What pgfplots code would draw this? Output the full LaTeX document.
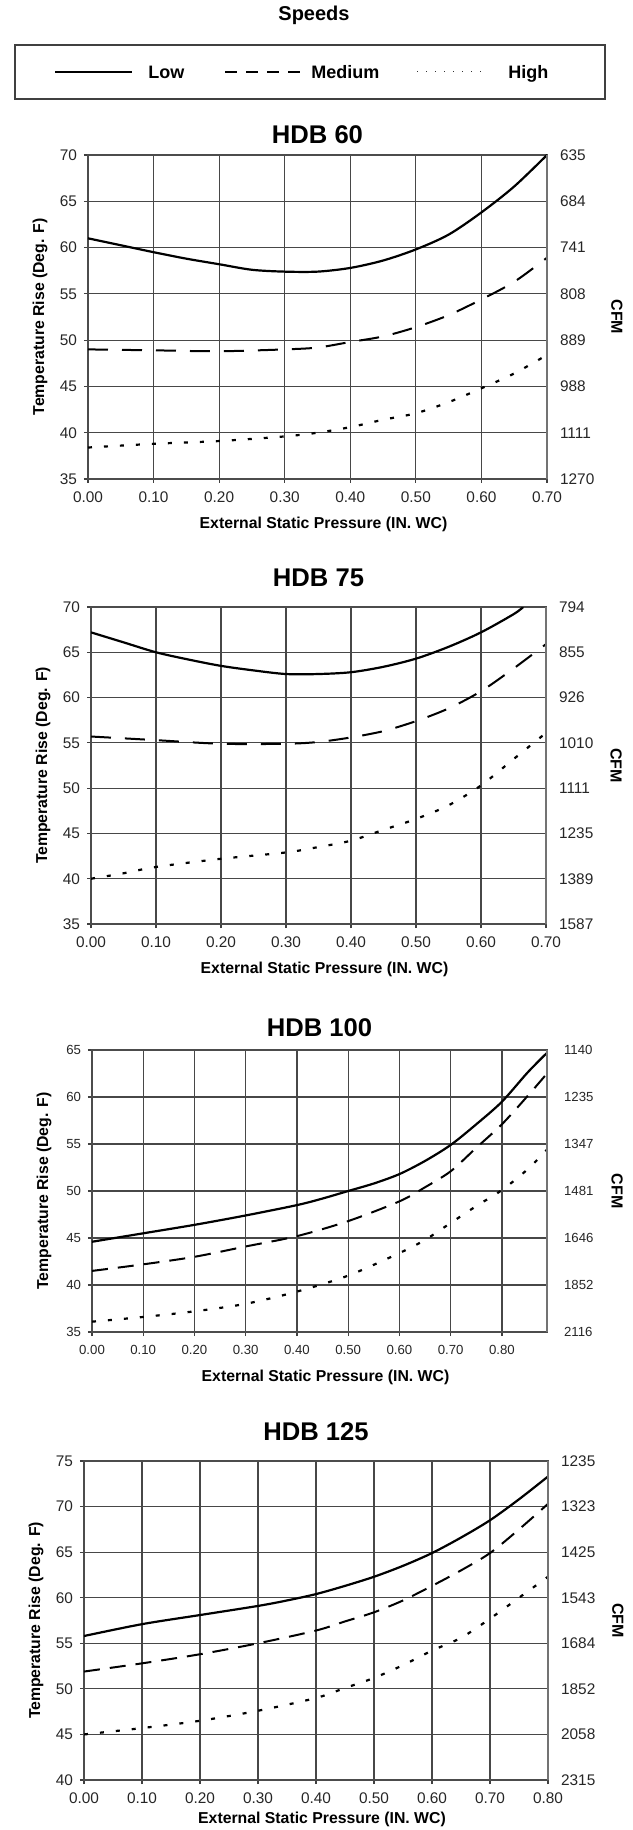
\documentclass[border=0pt]{standalone}
\usepackage{fontspec}
\setmainfont{Liberation Sans}
\usepackage{pgfplots}
\pgfplotsset{compat=1.18}

% 1 px of the reference = 0.5pt
\pgfplotsset{
  hdb/.style={
    scale only axis,
    anchor=north west,
    axis line style={black!70, line width=0.6pt},
    grid=major,
    major grid style={black!72, line width=0.6pt},
    tick style={black!75, line width=0.6pt},
    tick align=outside,
    major tick length=2pt,
    xtick pos=bottom, ytick pos=left,
    tick label style={font=\fontsize{7.7}{9}\selectfont, text=black!85},
    xticklabel style={yshift=-1pt},
    /pgf/number format/assume math mode=true,
    xlabel={External Static Pressure (IN. WC)},
    ylabel={Temperature Rise (Deg. F)},
    every axis x label/.style={at={(axis description cs:0.5,0)}, anchor=center,
      yshift=-22.5pt, xshift=3pt, font=\bfseries\fontsize{7.9}{9}\selectfont},
    every axis y label/.style={at={(axis description cs:0,0.5)}, anchor=center,
      xshift=-24pt, rotate=90, font=\bfseries\fontsize{7.9}{9}\selectfont},
  },
  ttl/.style={every axis title/.style={at={(axis description cs:0.5,1)}, anchor=center,
      yshift=#1, font=\bfseries\fontsize{12.8}{14}\selectfont}},
  cfm/.style={
    scale only axis,
    anchor=north west,
    axis y line*=right,
    axis x line=none,
    axis line style={black!55, line width=0.6pt},
    major tick length=0pt,
    tick label style={font=\fontsize{7.7}{9}\selectfont, text=black!85},
    yticklabel style={anchor=west, xshift=3pt},
    ylabel={CFM},
    every axis y label/.style={at={(axis description cs:1,0.5)}, anchor=center,
      xshift=35pt, rotate=-90, font=\bfseries\fontsize{8}{9}\selectfont},
  },
  low/.style={black, line width=1.1pt, smooth},
  med/.style={black, line width=1pt, smooth, dash pattern=on 10pt off 7pt},
  medb/.style={black, line width=1pt, smooth, dash pattern=on 8pt off 5pt},
  high/.style={black, line width=1.1pt, smooth, dash pattern=on 2pt off 6pt},
}

\begin{document}
\begin{tikzpicture}
\useasboundingbox (0,0) rectangle (316pt,-915pt);

% legend block
\node[font=\bfseries\fontsize{10}{12}\selectfont] at (157pt,-7.5pt) {Speeds};
\draw[black!75, line width=0.6pt] (7.5pt,-22.5pt) rectangle (302.5pt,-49.5pt);
\draw[black, line width=0.6pt] (27.5pt,-36pt) -- (66pt,-36pt);
\node[anchor=base west, inner sep=0pt, font=\bfseries\fontsize{9}{10}\selectfont] at (74pt,-39.3pt) {Low};
\draw[black, line width=0.9pt, dash pattern=on 6pt off 4.5pt] (112.5pt,-36pt) -- (151pt,-36pt);
\node[anchor=base west, inner sep=0pt, font=\bfseries\fontsize{9}{10}\selectfont] at (155.5pt,-39.3pt) {Medium};
\draw[black!80, line width=0.5pt, dash pattern=on 0.5pt off 4pt] (208.5pt,-36pt) -- (242pt,-36pt);
\node[anchor=base west, inner sep=0pt, font=\bfseries\fontsize{9}{10}\selectfont] at (254pt,-39.3pt) {High};

% === HDB 60 ===
\begin{axis}[hdb, ttl=10pt, at={(44pt,-77.5pt)}, width=229.5pt, height=162pt,
  title={HDB 60},
  xmin=0, xmax=0.7, ymin=35, ymax=70,
  xtick={0,0.1,0.2,0.3,0.4,0.5,0.6,0.7},
  xticklabels={0.00,0.10,0.20,0.30,0.40,0.50,0.60,0.70},
  ytick={35,40,45,50,55,60,65,70}]
\addplot[low] coordinates {(0,61.0) (0.05,60.25) (0.1,59.5) (0.15,58.8) (0.2,58.2) (0.25,57.6) (0.3,57.4) (0.35,57.4) (0.4,57.8) (0.45,58.6) (0.5,59.8) (0.55,61.4) (0.6,63.8) (0.65,66.6) (0.7,70.0)};
\addplot[med] coordinates {(0,49.0) (0.1,48.9) (0.2,48.8) (0.3,49.0) (0.35,49.2) (0.4,49.8) (0.45,50.4) (0.5,51.4) (0.55,52.7) (0.6,54.4) (0.65,56.3) (0.7,58.9)};
\addplot[high] coordinates {(0,38.4) (0.1,38.8) (0.2,39.1) (0.3,39.6) (0.35,40.0) (0.4,40.6) (0.45,41.4) (0.5,42.1) (0.55,43.3) (0.6,44.8) (0.65,46.4) (0.7,48.4)};
\end{axis}
\begin{axis}[cfm, at={(44pt,-77.5pt)}, width=229.5pt, height=162pt,
  xmin=0, xmax=0.7, ymin=35, ymax=70,
  ytick={35,40,45,50,55,60,65,70},
  yticklabels={1270,1111,988,889,808,741,684,635}]
\end{axis}

% === HDB 75 ===
\begin{axis}[hdb, ttl=14.5pt, at={(45.5pt,-303.5pt)}, width=227.5pt, height=158.5pt,
  title={HDB 75},
  xmin=0, xmax=0.7, ymin=35, ymax=70,
  xtick={0,0.1,0.2,0.3,0.4,0.5,0.6,0.7},
  xticklabels={0.00,0.10,0.20,0.30,0.40,0.50,0.60,0.70},
  ytick={35,40,45,50,55,60,65,70}]
\addplot[low] coordinates {(0,67.2) (0.05,66.1) (0.1,65.0) (0.15,64.2) (0.2,63.5) (0.25,63.0) (0.3,62.6) (0.35,62.6) (0.4,62.8) (0.45,63.4) (0.5,64.3) (0.55,65.6) (0.6,67.2) (0.65,69.2) (0.665,70.0)};
\addplot[med] coordinates {(0,55.7) (0.1,55.3) (0.2,54.9) (0.3,54.9) (0.35,55.1) (0.4,55.6) (0.45,56.3) (0.5,57.4) (0.55,58.8) (0.6,60.7) (0.65,63.2) (0.7,65.9)};
\addplot[high] coordinates {(0,40.0) (0.05,40.6) (0.1,41.3) (0.2,42.2) (0.3,42.9) (0.35,43.5) (0.4,44.2) (0.45,45.4) (0.5,46.6) (0.55,48.1) (0.6,50.3) (0.65,53.2) (0.7,56.1)};
\end{axis}
\begin{axis}[cfm, at={(45.5pt,-303.5pt)}, width=227.5pt, height=158.5pt,
  xmin=0, xmax=0.7, ymin=35, ymax=70,
  ytick={35,40,45,50,55,60,65,70},
  yticklabels={1587,1389,1235,1111,1010,926,855,794}]
\end{axis}

% === HDB 100 ===
\begin{axis}[hdb, ttl=11pt, at={(46pt,-525pt)}, width=227.5pt, height=141pt,
  title={HDB 100},
  tick label style={font=\fontsize{6.6}{8}\selectfont},
  xmin=0, xmax=0.888, ymin=35, ymax=65,
  xtick={0,0.1,0.2,0.3,0.4,0.5,0.6,0.7,0.8},
  xticklabels={0.00,0.10,0.20,0.30,0.40,0.50,0.60,0.70,0.80},
  ytick={35,40,45,50,55,60,65}]
\addplot[low] coordinates {(0,44.6) (0.1,45.5) (0.2,46.4) (0.3,47.4) (0.4,48.5) (0.45,49.2) (0.5,50.0) (0.55,50.8) (0.6,51.8) (0.65,53.2) (0.7,54.9) (0.75,57.1) (0.8,59.5) (0.85,62.6) (0.888,64.7)};
\addplot[medb] coordinates {(0,41.5) (0.1,42.2) (0.2,43.0) (0.3,44.1) (0.4,45.2) (0.5,46.8) (0.6,48.9) (0.65,50.4) (0.7,52.1) (0.75,54.6) (0.8,57.1) (0.85,60.1) (0.888,62.5)};
\addplot[high] coordinates {(0,36.1) (0.1,36.6) (0.2,37.2) (0.3,38.0) (0.4,39.3) (0.5,41.0) (0.6,43.4) (0.65,44.8) (0.7,46.6) (0.75,48.4) (0.8,50.1) (0.85,52.3) (0.888,54.4)};
\end{axis}
\begin{axis}[cfm, at={(46pt,-525pt)}, width=227.5pt, height=141pt,
  tick label style={font=\fontsize{6.6}{8}\selectfont},
  yticklabel style={xshift=2pt},
  xmin=0, xmax=0.888, ymin=35, ymax=65,
  ytick={35,40,45,50,55,60,65},
  yticklabels={2116,1852,1646,1481,1347,1235,1140}]
\end{axis}

% === HDB 125 ===
\begin{axis}[hdb, ttl=14.5pt, at={(42pt,-730.5pt)}, width=232pt, height=159.5pt,
  title={HDB 125},
  xlabel style={yshift=3pt},
  xmin=0, xmax=0.8, ymin=40, ymax=75,
  xtick={0,0.1,0.2,0.3,0.4,0.5,0.6,0.7,0.8},
  xticklabels={0.00,0.10,0.20,0.30,0.40,0.50,0.60,0.70,0.80},
  ytick={40,45,50,55,60,65,70,75}]
\addplot[low] coordinates {(0,55.8) (0.1,57.1) (0.2,58.1) (0.3,59.1) (0.35,59.7) (0.4,60.4) (0.45,61.3) (0.5,62.3) (0.55,63.5) (0.6,64.9) (0.65,66.6) (0.7,68.5) (0.75,70.8) (0.8,73.3)};
\addplot[medb] coordinates {(0,51.9) (0.1,52.8) (0.2,53.8) (0.3,55.0) (0.4,56.4) (0.45,57.4) (0.5,58.4) (0.55,59.7) (0.6,61.3) (0.65,63.0) (0.7,64.9) (0.75,67.5) (0.8,70.3)};
\addplot[high] coordinates {(0,45.0) (0.1,45.7) (0.2,46.5) (0.3,47.6) (0.4,49.0) (0.45,50.1) (0.5,51.2) (0.55,52.6) (0.6,54.2) (0.65,55.6) (0.7,57.7) (0.75,60.0) (0.8,62.3)};
\end{axis}
\begin{axis}[cfm, at={(42pt,-730.5pt)}, width=232pt, height=159.5pt,
  xmin=0, xmax=0.8, ymin=40, ymax=75,
  ytick={40,45,50,55,60,65,70,75},
  yticklabels={2315,2058,1852,1684,1543,1425,1323,1235}]
\end{axis}
\end{tikzpicture}
\end{document}
